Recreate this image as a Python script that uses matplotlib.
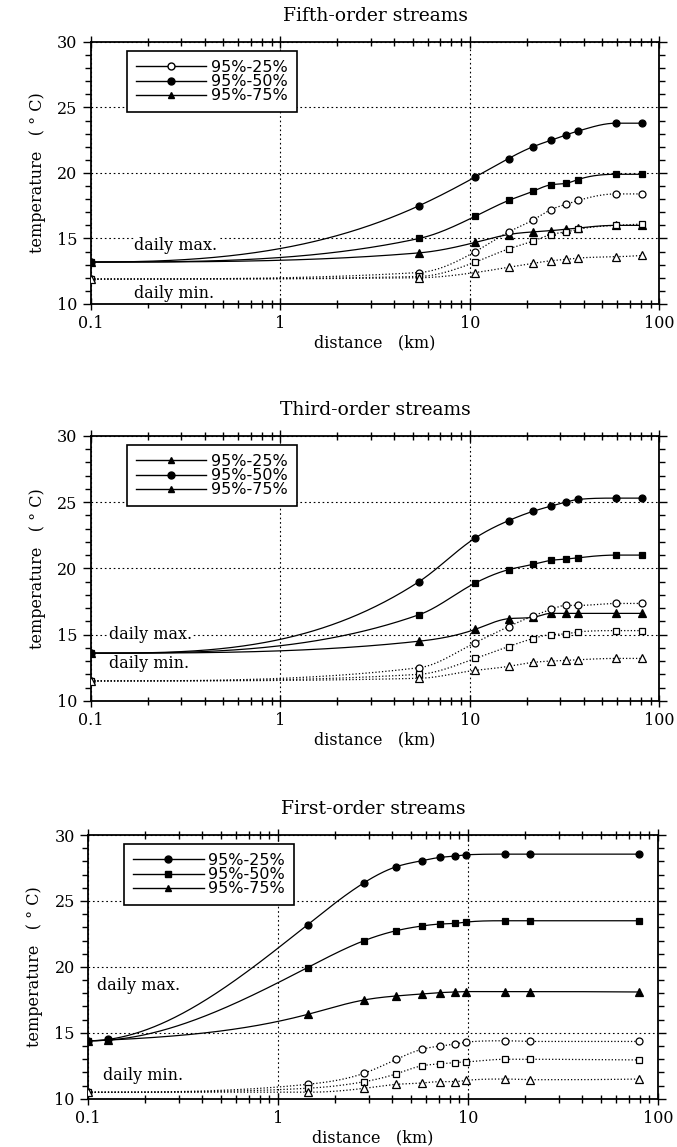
import numpy as np
import matplotlib
matplotlib.use('Agg')
import matplotlib.pyplot as plt
from matplotlib.lines import Line2D
from matplotlib.ticker import MultipleLocator, LogLocator, FixedLocator, FixedFormatter, NullFormatter

# distances (km) and stream temperatures (deg C) for each stream order
fifth_x = [0.1, 5.4, 10.7, 16, 21.5, 26.8, 32, 37.3, 59, 81]
fifth_max_25 = [13.2, 17.5, 19.7, 21.1, 22.0, 22.5, 22.9, 23.2, 23.8, 23.8]
fifth_max_50 = [13.2, 15.0, 16.7, 17.9, 18.6, 19.1, 19.2, 19.5, 19.9, 19.9]
fifth_max_75 = [13.2, 13.9, 14.7, 15.3, 15.5, 15.6, 15.7, 15.8, 16.0, 16.0]
fifth_min_25 = [11.9, 12.4, 14.0, 15.5, 16.4, 17.2, 17.6, 17.9, 18.4, 18.4]
fifth_min_50 = [11.9, 12.1, 13.2, 14.2, 14.8, 15.3, 15.5, 15.7, 16.0, 16.1]
fifth_min_75 = [11.9, 12.0, 12.4, 12.8, 13.1, 13.3, 13.4, 13.5, 13.6, 13.7]

third_x = [0.1, 5.4, 10.7, 16, 21.5, 26.8, 32, 37.3, 59, 81]
third_max_25 = [13.6, 19.0, 22.3, 23.6, 24.3, 24.7, 25.0, 25.2, 25.3, 25.3]
third_max_50 = [13.6, 16.5, 18.9, 19.9, 20.3, 20.6, 20.7, 20.8, 21.0, 21.0]
third_max_75 = [13.6, 14.5, 15.4, 16.2, 16.3, 16.6, 16.6, 16.6, 16.6, 16.6]
third_min_25 = [11.5, 12.5, 14.4, 15.6, 16.4, 16.9, 17.2, 17.2, 17.35, 17.35]
third_min_50 = [11.5, 12.0, 13.2, 14.1, 14.7, 15.0, 15.05, 15.2, 15.3, 15.3]
third_min_75 = [11.5, 11.7, 12.3, 12.6, 12.9, 13.0, 13.05, 13.1, 13.2, 13.2]

first_x_max = [0.1, 0.127, 1.43, 2.85, 4.2, 5.7, 7.1, 8.5, 9.8, 15.7, 21.2, 79]
first_max_25 = [14.4, 14.5, 23.2, 26.4, 27.6, 28.05, 28.3, 28.4, 28.5, 28.55, 28.55, 28.55]
first_max_50 = [14.4, 14.45, 19.95, 22.0, 22.75, 23.1, 23.25, 23.3, 23.4, 23.5, 23.5, 23.5]
first_max_75 = [14.4, 14.45, 16.4, 17.5, 17.8, 17.95, 18.05, 18.1, 18.13, 18.13, 18.13, 18.1]
first_x_min = [0.1, 1.43, 2.85, 4.2, 5.7, 7.1, 8.5, 9.8, 15.7, 21.2, 79]
first_min_25 = [10.5, 11.1, 11.95, 13.0, 13.75, 14.0, 14.15, 14.3, 14.4, 14.35, 14.35]
first_min_50 = [10.5, 10.8, 11.3, 11.9, 12.5, 12.65, 12.75, 12.8, 13.0, 13.0, 12.95]
first_min_75 = [10.5, 10.5, 10.8, 11.1, 11.2, 11.3, 11.3, 11.4, 11.5, 11.45, 11.5]

series_labels = ['95%-25%', '95%-50%', '95%-75%']
serif = 'DejaVu Serif'


def smooth(xk, yk, xs):
    # spline slopes (flat upstream end, natural downstream end), then limited
    # so each piece stays monotone -> smooth curve with no over/undershoot
    xk = np.asarray(xk, float)
    yk = np.asarray(yk, float)
    n = len(xk)
    h = np.diff(xk)
    d = np.diff(yk) / h
    A = np.zeros((n, n))
    b = np.zeros(n)
    A[0, 0] = 2 * h[0]
    A[0, 1] = h[0]
    b[0] = 6 * d[0]
    for i in range(1, n - 1):
        A[i, i - 1] = h[i - 1]
        A[i, i] = 2 * (h[i - 1] + h[i])
        A[i, i + 1] = h[i]
        b[i] = 6 * (d[i] - d[i - 1])
    A[-1, -1] = 1.0
    M = np.linalg.solve(A, b)
    s = np.empty(n)
    s[:-1] = d - h * (2 * M[:-1] + M[1:]) / 6
    s[-1] = d[-1] + h[-1] * (M[-2] + 2 * M[-1]) / 6

    for k in range(1, n - 1):
        if d[k - 1] * d[k] <= 0:
            s[k] = 0.0
    for k in range(n - 1):
        if d[k] == 0:
            s[k] = s[k + 1] = 0.0
            continue
        a = s[k] / d[k]
        bta = s[k + 1] / d[k]
        if a < 0:
            s[k] = 0.0
            a = 0.0
        if bta < 0:
            s[k + 1] = 0.0
            bta = 0.0
        r = a * a + bta * bta
        if r > 9:
            tau = 3 / np.sqrt(r)
            s[k] = tau * a * d[k]
            s[k + 1] = tau * bta * d[k]

    i = np.clip(np.searchsorted(xk, xs) - 1, 0, n - 2)
    t = (xs - xk[i]) / h[i]
    h00 = 2 * t**3 - 3 * t**2 + 1
    h10 = t**3 - 2 * t**2 + t
    h01 = -2 * t**3 + 3 * t**2
    h11 = t**3 - t**2
    return (h00 * yk[i] + h10 * h[i] * s[i]
            + h01 * yk[i + 1] + h11 * h[i] * s[i + 1])


def smooth_line(ax, x, y, style, marker, filled):
    lx = np.log10(x)
    xs = np.linspace(lx[0], lx[-1], 500)
    ax.plot(10**xs, smooth(lx, y, xs), color='k', lw=0.9, linestyle=style, zorder=2)
    ax.plot(x, y, linestyle='none', marker=marker, ms=5 if marker != '^' else 5.5,
            mfc='k' if filled else 'white', mec='k', mew=0.9, zorder=3)


def panel(ax, title, xmax, maxes, xmin, mins, legend_marks, max_txt, min_txt):
    markers = ['o', 's', '^']
    for y, mk in zip(maxes, markers):
        smooth_line(ax, xmax, y, '-', mk, True)
    for y, mk in zip(mins, markers):
        smooth_line(ax, xmin, y, ':', mk, False)

    ax.set_xscale('log')
    ax.set_xlim(0.1, 100)
    ax.set_ylim(10, 30)
    ax.xaxis.set_major_locator(FixedLocator([0.1, 1, 10, 100]))
    ax.xaxis.set_major_formatter(FixedFormatter(['0.1', '1', '10', '100']))
    ax.xaxis.set_minor_locator(LogLocator(base=10, subs=np.arange(2, 10)))
    ax.xaxis.set_minor_formatter(NullFormatter())
    ax.yaxis.set_major_locator(MultipleLocator(5))
    ax.yaxis.set_minor_locator(MultipleLocator(1))
    ax.tick_params(which='both', top=True, right=True, labelsize=11.5, width=1.0)
    ax.tick_params(axis='x', which='major', direction='inout', length=9)
    ax.tick_params(axis='x', which='minor', direction='inout', length=6)
    ax.tick_params(axis='y', which='major', direction='out', length=6)
    ax.tick_params(axis='y', which='minor', direction='out', length=4)
    for lab in ax.get_xticklabels() + ax.get_yticklabels():
        lab.set_family(serif)
    for sp in ax.spines.values():
        sp.set_linewidth(1.3)
    ax.grid(True, which='major', linestyle=(0, (1.5, 2.5)), color='k', lw=0.8)

    ax.set_title(title, family=serif, fontsize=13.5, pad=15)
    ax.set_xlabel('distance   (km)', family=serif, fontsize=11.5, labelpad=2)
    ax.set_ylabel('temperature   ( ° C)', family=serif, fontsize=11.5, labelpad=8)

    handles = [Line2D([], [], color='k', lw=1.0, marker=mk, ms=5,
                      mfc=fc, mec='k') for mk, fc in legend_marks]
    leg = ax.legend(handles, series_labels, loc='upper left',
                    bbox_to_anchor=(0.064, 0.965), borderaxespad=0,
                    fontsize=11.5, labelspacing=-0.05, handlelength=4.4,
                    handletextpad=0.3, borderpad=0.55, fancybox=False,
                    framealpha=1, edgecolor='k')
    leg.get_frame().set_linewidth(1.2)

    ax.text(max_txt[0], max_txt[1], 'daily max.', family=serif, fontsize=11.5,
            va='center', ha='left', zorder=4,
            bbox=dict(facecolor='white', edgecolor='none', pad=0.5))
    ax.text(min_txt[0], min_txt[1], 'daily min.', family=serif, fontsize=11.5,
            va='center', ha='left', zorder=4,
            bbox=dict(facecolor='white', edgecolor='none', pad=0.5))


fig = plt.figure(figsize=(6.77, 11.47), dpi=100)
ax1 = fig.add_axes([0.134, 0.735, 0.840, 0.2284])
ax2 = fig.add_axes([0.134, 0.389, 0.840, 0.231])
ax3 = fig.add_axes([0.130, 0.042, 0.842, 0.230])

panel(ax1, 'Fifth-order streams', fifth_x,
      [fifth_max_25, fifth_max_50, fifth_max_75], fifth_x,
      [fifth_min_25, fifth_min_50, fifth_min_75],
      [('o', 'white'), ('o', 'k'), ('^', 'k')], (0.17, 14.5), (0.17, 10.8))
panel(ax2, 'Third-order streams', third_x,
      [third_max_25, third_max_50, third_max_75], third_x,
      [third_min_25, third_min_50, third_min_75],
      [('^', 'k'), ('o', 'k'), ('^', 'k')], (0.125, 15.0), (0.125, 12.8))
panel(ax3, 'First-order streams', first_x_max,
      [first_max_25, first_max_50, first_max_75], first_x_min,
      [first_min_25, first_min_50, first_min_75],
      [('o', 'k'), ('s', 'k'), ('^', 'k')], (0.112, 18.6), (0.12, 11.8))

fig.savefig('out.png', dpi=100)
